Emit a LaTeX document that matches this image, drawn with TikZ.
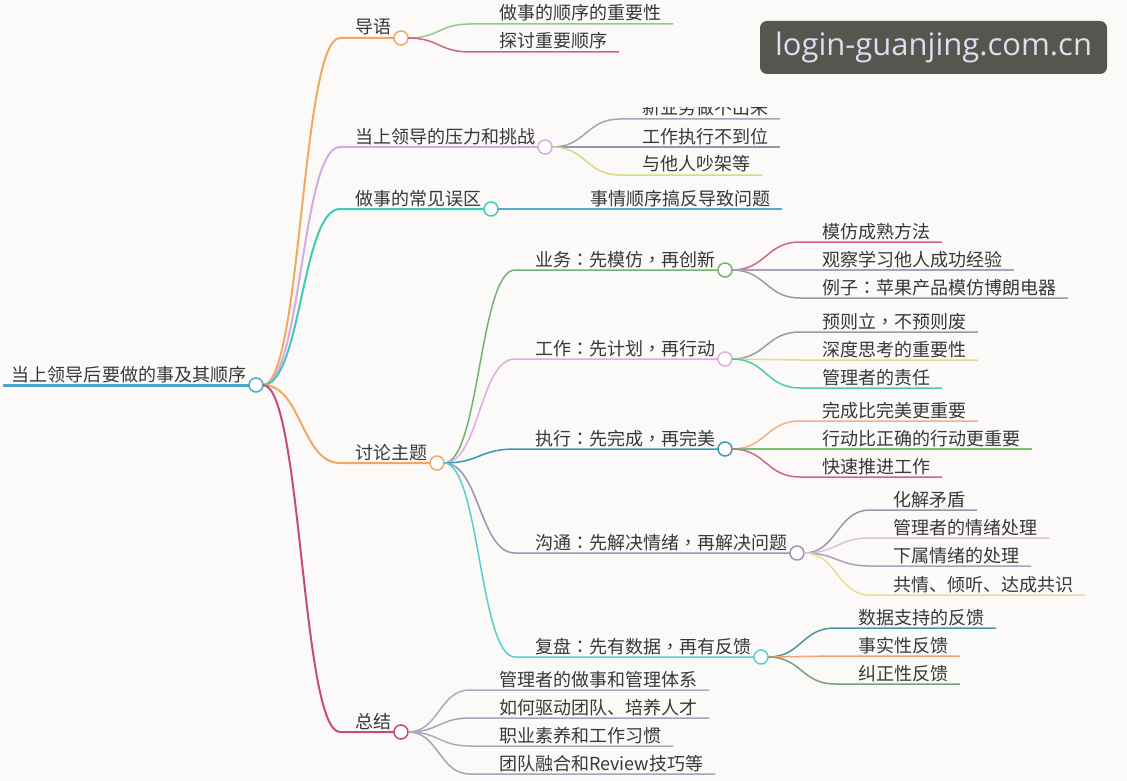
\documentclass[tikz,border=0pt]{standalone}
\usepackage{fontspec}
\newfontfamily\cjk{Noto Sans CJK SC}
\newfontfamily\cjktc{Noto Sans CJK TC}
\newfontfamily\wmfont{Open Sans}
\newcommand\pcn[1]{{\cjktc #1}}
\usetikzlibrary{calc}
\definecolor{bg}{HTML}{FCF9F9}
\definecolor{textc}{HTML}{383838}
\definecolor{croot}{HTML}{4BA8C8}
\definecolor{corange}{HTML}{F2A862}
\definecolor{clilac}{HTML}{D9A9E3}
\definecolor{cteal}{HTML}{3FCBB5}
\definecolor{ccrim}{HTML}{C94B72}
\definecolor{cgreen}{HTML}{8CCB8C}
\definecolor{ccrim2}{HTML}{D2648A}
\definecolor{cgp}{HTML}{A9A2BA}
\definecolor{cgb}{HTML}{9199AB}
\definecolor{cyg}{HTML}{D5DC83}
\definecolor{cblue}{HTML}{55A9CC}
\definecolor{cgreen2}{HTML}{72B372}
\definecolor{cpink}{HTML}{E2AAE2}
\definecolor{cteb}{HTML}{3A97B2}
\definecolor{cgp2}{HTML}{9A93BA}
\definecolor{ccyan}{HTML}{55D2CB}
\definecolor{cgray}{HTML}{9A9AAA}
\definecolor{cyel}{HTML}{E2DA92}
\definecolor{cteal2}{HTML}{50C8B8}
\definecolor{corange2}{HTML}{F2B284}
\definecolor{cgreen3}{HTML}{72C272}
\definecolor{clil2}{HTML}{D8C2E2}
\definecolor{cyel2}{HTML}{E2E292}
\definecolor{cteal3}{HTML}{4898A2}
\definecolor{corange3}{HTML}{F2A272}
\definecolor{cgg}{HTML}{72A282}
\definecolor{czj}{HTML}{B0A9C2}
\definecolor{wm}{HTML}{56564E}
\definecolor{wmtext}{HTML}{DCDCF2}
\tikzset{
  txt/.style={inner sep=0pt, outer sep=0pt, font=\cjk\fontsize{18}{20}\selectfont, text=textc},
  link/.style={line width=1.5pt},
  hub/.style={circle, draw=#1, fill=white, line width=1.5pt, minimum size=14pt, inner sep=0pt, outer sep=0pt},
}
% #1 parent node, #2 name, #3 colour, #4 x of curve end, #5 x of text, #6 y of line, #7 text
\newcommand\mmleaf[7]{%
  \coordinate (#2e) at (#4,#6);
  \node[txt, anchor=base west] (#2) at (#5,#6-4) {#7};
  \draw[link, draw=#3] let \p1=(#1.east), \p2=(#2e) in
    (\p1) .. controls ({0.5*\x1+0.5*\x2},\y1) and ({0.5*\x1+0.5*\x2},\y2) .. (\p2)
    -- ($(#2.base east |- #2e)+(12pt,0)$);
}
\newcommand\mmbranch[7]{%
  \coordinate (#2e) at (#4,#6);
  \node[txt, anchor=base west] (#2) at (#5,#6-4) {#7};
  \node[hub=#3] (#2c) at ($(#2.base east |- #2e)+(10pt,0)$) {};
  \draw[link, draw=#3] let \p1=(#1.east), \p2=(#2e) in
    (\p1) .. controls ({0.5*\x1+0.5*\x2},\y1) and ({0.5*\x1+0.5*\x2},\y2) .. (\p2)
    -- (#2c.west);
}
\begin{document}
\begin{tikzpicture}[x=1pt,y=-1pt]
\useasboundingbox (0,0) rectangle (1127,781);
\fill[bg] (0,0) rectangle (1127,781);
% root
\coordinate (roots) at (3,385);
\node[txt, anchor=base west] (root) at (12,381) {当上领导后要做的事及其顺序};
\node[hub=croot] (rootc) at (256,385) {};
\draw[croot, line width=3pt] (roots) -- (rootc.west);
% level 1
\begin{scope}[link/.style={line width=2pt}]
\mmbranch{rootc}{dy}{corange}{340}{355}{38}{导语}
\mmbranch{rootc}{yl}{clilac}{340}{355}{147}{当上领导的压力和挑战}
\mmbranch{rootc}{wq}{cteal}{340}{355}{209}{做事的常见误区}
\mmbranch{rootc}{tl}{corange}{340}{355}{463}{讨论主题}
\mmbranch{rootc}{zj}{ccrim}{340}{355}{732}{总结}
\end{scope}
% 导语
\mmleaf{dyc}{dya}{cgreen}{470}{499}{24}{做事的顺序的重要性}
\mmleaf{dyc}{dyb}{ccrim2}{470}{499}{52}{探讨重要顺序}
% 压力
\begin{scope}
\clip (0,108) rectangle (1127,781);
\mmleaf{ylc}{yla}{cgp}{620}{642}{119}{新业务做不出来}
\end{scope}
\mmleaf{ylc}{ylb}{cgb}{620}{642}{147}{工作执行不到位}
\mmleaf{ylc}{ylx}{cyg}{620}{642}{175}{与他人吵架等}
% 误区
\mmleaf{wqc}{wqa}{cblue}{570}{590}{209}{事情顺序搞反导致问题}
% 讨论主题
\mmbranch{tlc}{yw}{cgreen2}{515}{535}{270}{业务\pcn{：}先模仿\pcn{，}再创新}
\mmbranch{tlc}{gz}{cpink}{515}{535}{359}{工作\pcn{：}先计划\pcn{，}再行动}
\mmbranch{tlc}{zx}{cteb}{515}{535}{449}{执行\pcn{：}先完成\pcn{，}再完美}
\mmbranch{tlc}{gt}{cgp2}{515}{535}{553}{沟通\pcn{：}先解决情绪\pcn{，}再解决问题}
\mmbranch{tlc}{fp}{ccyan}{515}{535}{657}{复盘\pcn{：}先有数据\pcn{，}再有反馈}
% 业务
\mmleaf{ywc}{ywa}{ccrim2}{800}{822}{242}{模仿成熟方法}
\mmleaf{ywc}{ywb}{cgp}{800}{822}{270}{观察学习他人成功经验}
\mmleaf{ywc}{ywx}{cgray}{800}{822}{298}{例子\pcn{：}苹果产品模仿博朗电器}
% 工作
\mmleaf{gzc}{gza}{cgray}{800}{822}{332}{预则立\pcn{，}不预则废}
\mmleaf{gzc}{gzb}{cyel}{800}{822}{360}{深度思考的重要性}
\mmleaf{gzc}{gzx}{cteal2}{800}{822}{388}{管理者的责任}
% 执行
\mmleaf{zxc}{zxa}{corange2}{800}{822}{421}{完成比完美更重要}
\mmleaf{zxc}{zxb}{cgreen3}{800}{822}{449}{行动比正确的行动更重要}
\mmleaf{zxc}{zxx}{ccrim2}{800}{822}{477}{快速推进工作}
% 沟通
\mmleaf{gtc}{gta}{cgray}{870}{893}{510}{化解矛盾}
\mmleaf{gtc}{gtb}{clil2}{870}{893}{538}{管理者的情绪处理}
\mmleaf{gtc}{gtx}{cgp}{870}{893}{566}{下属情绪的处理}
\mmleaf{gtc}{gty}{cyel2}{870}{893}{595}{共情、倾听、达成共识}
% 复盘
\mmleaf{fpc}{fpa}{cteal3}{835}{858}{628}{数据支持的反馈}
\mmleaf{fpc}{fpb}{corange3}{835}{858}{656}{事实性反馈}
\mmleaf{fpc}{fpx}{cgg}{835}{858}{684}{纠正性反馈}
% 总结
\mmleaf{zjc}{zja}{czj}{470}{499}{690}{管理者的做事和管理体系}
\mmleaf{zjc}{zjb}{cgp}{470}{499}{718}{如何驱动团队、培养人才}
\mmleaf{zjc}{zjx}{czj}{470}{499}{746}{职业素养和工作习惯}
\mmleaf{zjc}{zjy}{cgp}{470}{499}{774}{团队融合和Review技巧等}
% watermark
\node[fill=wm, rounded corners=7pt, minimum width=347pt, minimum height=53pt, inner sep=0pt,
      text=wmtext, font=\wmfont\fontsize{31}{33}\selectfont] (wmark) at (933.5,47.5) {login-guanjing.com.cn};
\end{tikzpicture}
\end{document}
